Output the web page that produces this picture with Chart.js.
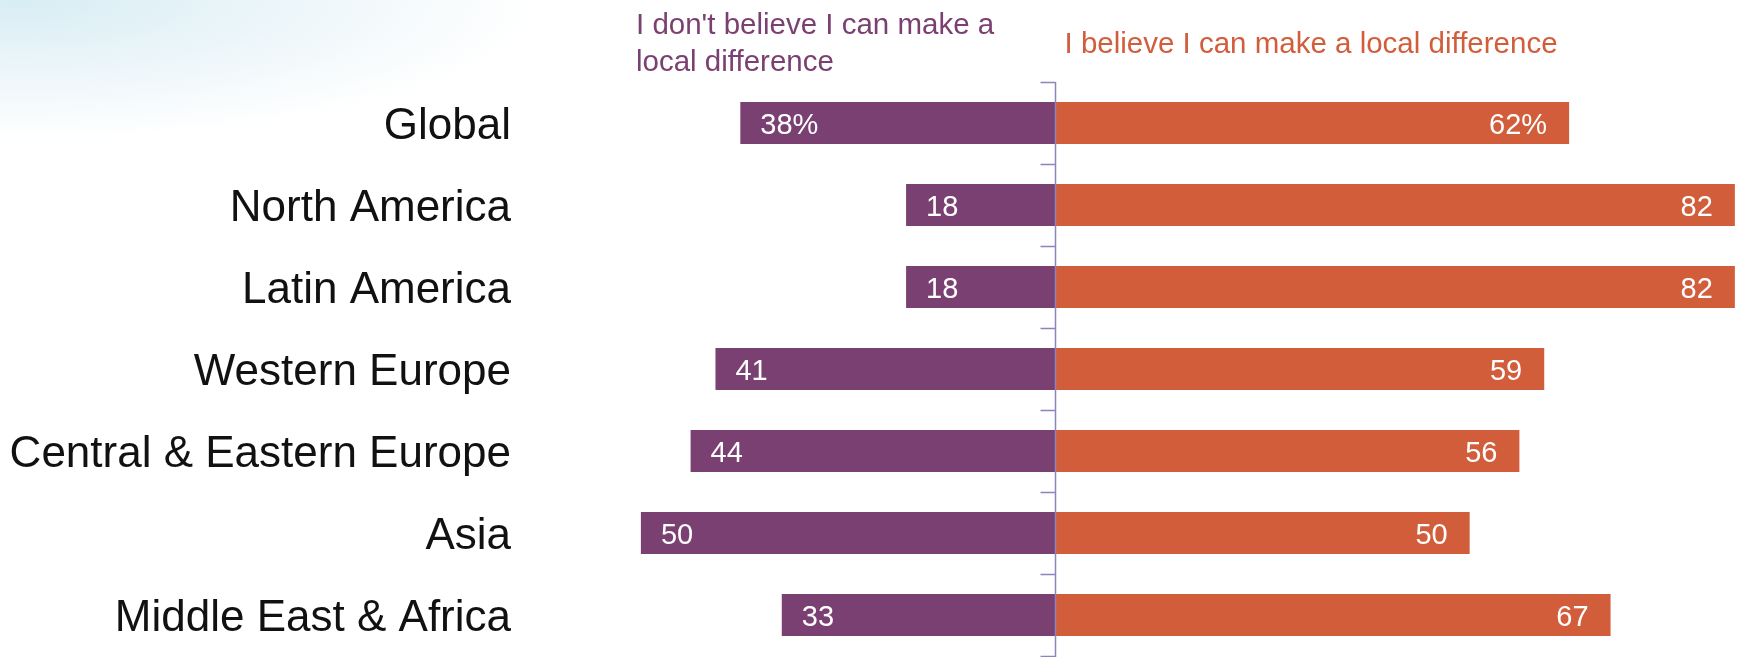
<!DOCTYPE html>
<html>
<head>
<meta charset="utf-8">
<script src="https://cdn.jsdelivr.net/npm/chart.js@4.4.1/dist/chart.umd.min.js"></script>
<style>
  html, body { margin: 0; padding: 0; }
  body {
    width: 1741px; height: 657px; overflow: hidden;
    background: radial-gradient(ellipse 520px 140px at 20px 0px, #d8edf4 0%, rgba(228,242,247,0.7) 50%, rgba(255,255,255,0) 100%), #ffffff;
  }
  #wrap { position: relative; width: 1741px; height: 657px; }
</style>
</head>
<body>
<div id="wrap"><canvas id="chart" width="1741" height="657"></canvas></div>
<script>
// data
const regions = ['Global', 'North America', 'Latin America', 'Western Europe',
                 'Central & Eastern Europe', 'Asia', 'Middle East & Africa'];
const dontBelieve = [38, 18, 18, 41, 44, 50, 33];
const believe = [62, 82, 82, 59, 56, 50, 67];
const dontLabels = ['38%', '18', '18', '41', '44', '50', '33'];
const believeLabels = ['62%', '82', '82', '59', '56', '50', '67'];
const seriesNames = ["I don't believe I can make a|local difference", 'I believe I can make a local difference'];

const PURPLE = '#7b4072';
const ORANGE = '#d15d3b';
const AXIS = '#8a85bd';
const FONT = '"Liberation Sans Narrow", "Liberation Sans", sans-serif';

// axis line, tick marks, value labels and the two headers
const overlay = {
    id: 'overlay',
    afterDatasetsDraw(chart) {
        const ctx = chart.ctx;
        const area = chart.chartArea;
        const x = chart.scales.x;
        const y = chart.scales.y;
        const x0 = Math.round(x.getPixelForValue(0)) + 0.5;
        const band = (area.bottom - area.top) / regions.length;

        ctx.save();
        ctx.strokeStyle = AXIS;
        ctx.lineWidth = 1.5;
        ctx.beginPath();
        ctx.moveTo(x0, area.top);
        ctx.lineTo(x0, area.bottom + 3);
        for (let i = 0; i <= regions.length; i++) {
            const ty = Math.round(y.getPixelForValue(i) - band / 2) + 0.5;
            ctx.moveTo(x0 - 15, ty);
            ctx.lineTo(x0, ty);
        }
        ctx.stroke();

        // value labels inside the bars
        ctx.fillStyle = '#ffffff';
        ctx.font = '29px ' + FONT;
        ctx.textBaseline = 'middle';
        chart.getDatasetMeta(0).data.forEach((bar, i) => {
            ctx.textAlign = 'left';
            ctx.fillText(dontLabels[i], Math.min(bar.x, bar.base) + 20, bar.y + 3);
        });
        chart.getDatasetMeta(1).data.forEach((bar, i) => {
            ctx.textAlign = 'right';
            ctx.fillText(believeLabels[i], Math.max(bar.x, bar.base) - 22, bar.y + 3);
        });

        // headers
        ctx.font = '29.5px ' + FONT;
        ctx.textBaseline = 'alphabetic';
        ctx.textAlign = 'left';
        ctx.fillStyle = PURPLE;
        const lines = seriesNames[0].split('|');
        ctx.fillText(lines[0], 636, 34);
        ctx.fillText(lines[1], 636, 71);
        ctx.fillStyle = ORANGE;
        ctx.fillText(seriesNames[1], x0 + 9, 53);
        ctx.restore();
    }
};

new Chart('chart', {
    type: 'bar',
    data: {
        labels: regions,
        datasets: [
            { label: seriesNames[0].replace('|', ' '), data: dontBelieve.map(v => -v), backgroundColor: PURPLE },
            { label: seriesNames[1], data: believe, backgroundColor: ORANGE }
        ]
    },
    options: {
        indexAxis: 'y',
        responsive: false,
        animation: false,
        layout: { padding: { top: 82, bottom: 1, left: 0, right: 0 } },
        datasets: { bar: { barPercentage: 1, categoryPercentage: 0.51 } },
        plugins: { legend: { display: false }, tooltip: { enabled: false } },
        scales: {
            x: { stacked: true, min: -60, max: 82.74, display: false },
            y: {
                stacked: true,
                grid: { display: false, drawTicks: false },
                border: { display: false },
                ticks: { color: '#111111', padding: 47, labelOffset: 4, font: { family: FONT, size: 44 } },
                afterFit(scale) {
                    scale.width = 558;
                    // keep the label padding from eating into the plot height
                    scale.paddingTop = 0;
                    scale.paddingBottom = 0;
                }
            }
        }
    },
    plugins: [overlay]
});
</script>
</body>
</html>
